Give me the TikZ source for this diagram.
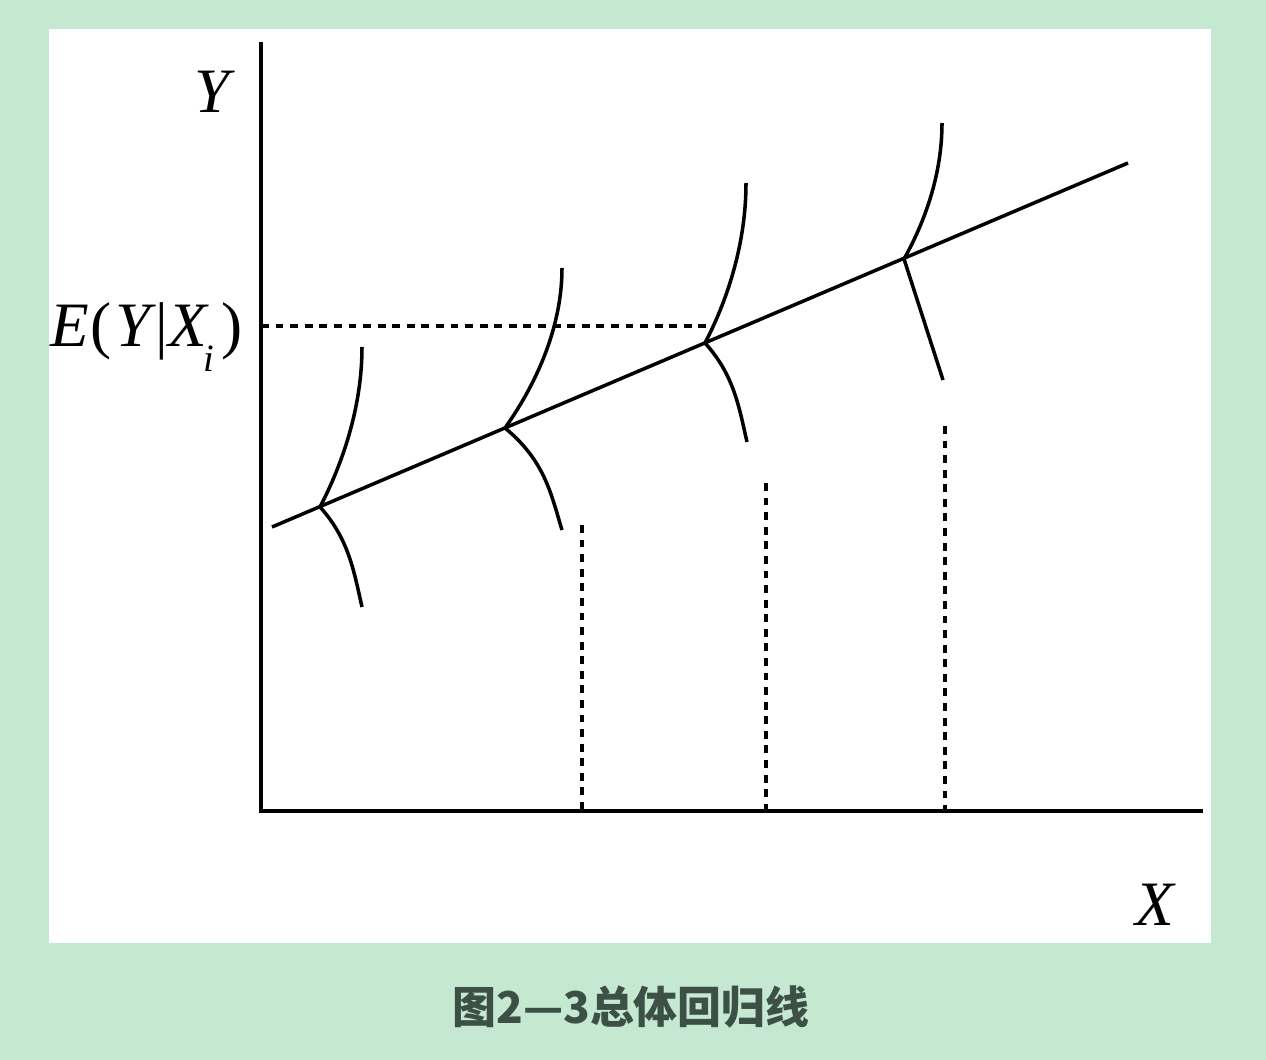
\documentclass[tikz,border=0pt]{standalone}
\usepackage{fontspec}
\setmainfont{Liberation Serif}
\newfontfamily\cjk{Noto Sans CJK SC}
\definecolor{bggreen}{HTML}{C5E8D0}
\definecolor{captxt}{HTML}{3D5046}
\begin{document}
\begin{tikzpicture}[x=0.02cm,y=-0.02cm,
  solidline/.style={line width=2pt},
  axisline/.style={line width=2pt},
  dashline/.style={line width=1.9pt,dash pattern=on 4.5pt off 3.8pt},
  lbl/.style={inner sep=0pt,font=\fontsize{36}{40}\selectfont\itshape},
  captionstyle/.style={inner sep=0pt,text=captxt,font=\fontsize{25}{28}\selectfont\cjk\bfseries}]
\fill[bggreen] (0,0) rectangle (1266,1060);
\fill[white] (49,29) rectangle (1211,943);
\useasboundingbox (0,0) rectangle (1266,1060);
% axes
\coordinate (ytop) at (261,42);
\coordinate (orig) at (261,811);
\coordinate (xend) at (1203,811);
\draw[axisline] (ytop) -- (orig) -- (xend);
% regression line
\coordinate (ra) at (272,527);
\coordinate (rb) at (1128,163);
\draw[solidline] (ra) -- (rb);
% points on line
\coordinate (p1) at (320,507);
\coordinate (p2) at (505,428);
\coordinate (p3) at (705,343);
\coordinate (p4) at (904,259);
% curve ends
\coordinate (t1) at (362,347);
\coordinate (b1) at (362,607);
\coordinate (t2) at (562,268);
\coordinate (b2) at (562,530);
\coordinate (t3) at (746,183);
\coordinate (b3) at (747,442);
\coordinate (t4) at (942,123);
\coordinate (b4) at (943,380);
% upper arcs
\draw[solidline] (p1) .. controls (345,459) and (362,403) .. (t1);
\draw[solidline] (p2) .. controls (539,380) and (562,324) .. (t2);
\draw[solidline] (p3) .. controls (730,295) and (746,239) .. (t3);
\draw[solidline] (p4) .. controls (927,218) and (942,171) .. (t4);
% lower arcs
\draw[solidline] (p1) .. controls (349,539) and (354,572) .. (b1);
\draw[solidline] (p2) .. controls (545,461) and (551,494) .. (b2);
\draw[solidline] (p3) .. controls (734,375) and (739,407) .. (b3);
\draw[solidline] (p4) -- (b4);
% dashed guides
\coordinate (d1) at (582,525);
\coordinate (d1b) at (582,811);
\coordinate (d2) at (766,483);
\coordinate (d2b) at (766,811);
\coordinate (d3) at (945,426);
\coordinate (d3b) at (945,811);
\coordinate (hl) at (261,326);
\coordinate (hr) at (708,326);
\draw[dashline] (d1) -- (d1b);
\draw[dashline] (d2) -- (d2b);
\draw[dashline] (d3) -- (d3b);
\draw[dashline] (hl) -- (hr);
% labels
\node[lbl,anchor=base] (ylab) at (212,113) {Y};
\node[lbl,anchor=base] (xlab) at (1155,925) {X};
\node[lbl,anchor=base west] (elab) at (50,347) {E\kern1pt\upshape(\kern2pt\itshape Y\kern3pt\upshape|\itshape X\kern-2pt\raisebox{-0.38em}{\fontsize{22}{22}\selectfont i}\kern4pt\upshape)};
\node[captionstyle] (caption) at (631,1007) {图2—3总体回归线};
\end{tikzpicture}
\end{document}
